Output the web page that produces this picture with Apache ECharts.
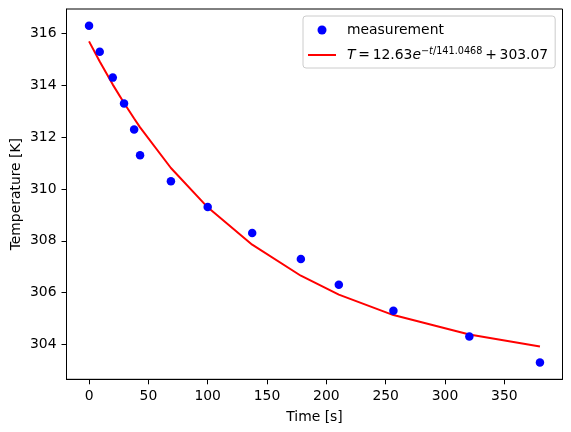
<!DOCTYPE html>
<html>
<head>
<meta charset="utf-8">
<script src="https://cdn.jsdelivr.net/npm/echarts@6/dist/echarts.min.js"></script>
<style>html,body{margin:0;padding:0;background:#fff;}#c{width:571px;height:432px;}</style>
</head>
<body>
<div id="c"></div>
<script>
// Measurement times [s] and temperatures [K]
var times = [0, 9, 20, 29.5, 38, 43, 69, 100, 137.5, 178.5, 210.5, 256.5, 320.5, 380];
var measured = [316.3, 315.3, 314.3, 313.3, 312.3, 311.3, 310.3, 309.3, 308.3, 307.3, 306.3, 305.3, 304.3, 303.3];
// Fitted curve values read at the same times
var fitted = [315.70, 314.92, 314.03, 313.32, 312.72, 312.38, 310.81, 309.29, 307.85, 306.65, 305.92, 305.13, 304.38, 303.92];
var xTicks = [0, 50, 100, 150, 200, 250, 300, 350];
var yTicks = [304, 306, 308, 310, 312, 314, 316];

var FONT = 'DejaVu Sans';
var chart = echarts.init(document.getElementById('c'), null, {renderer: 'canvas'});
var measData = times.map(function (t, i) { return [t, measured[i]]; });
var fitData = times.map(function (t, i) { return [t, fitted[i]]; });

chart.setOption({
  animation: false,
  backgroundColor: '#ffffff',
  grid: {left: 66.5, right: 8.5, top: 9, bottom: 52.7, show: true, borderColor: '#000', borderWidth: 1,
         backgroundColor: 'transparent', containLabel: false, outerBoundsMode: 'none'},
  xAxis: {
    type: 'value', min: -19, max: 399,
    name: 'Time [s]', nameLocation: 'middle', nameGap: 31, nameMoveOverlap: false,
    nameTextStyle: {fontFamily: FONT, fontSize: 13.9, color: '#000'},
    axisLine: {show: true, onZero: false, lineStyle: {color: '#000', width: 1}},
    axisTick: {show: true, length: 5, inside: false, customValues: xTicks, lineStyle: {color: '#000', width: 1}},
    axisLabel: {customValues: xTicks, margin: 10, fontFamily: FONT, fontSize: 13.9, color: '#000'},
    splitLine: {show: false}
  },
  yAxis: {
    type: 'value', min: 302.65, max: 316.95,
    name: 'Temperature [K]', nameLocation: 'middle', nameGap: 43, nameRotate: 90, nameMoveOverlap: false,
    nameTextStyle: {fontFamily: FONT, fontSize: 13.9, color: '#000'},
    axisLine: {show: true, onZero: false, lineStyle: {color: '#000', width: 1}},
    axisTick: {show: true, length: 5, inside: false, customValues: yTicks, lineStyle: {color: '#000', width: 1}},
    axisLabel: {customValues: yTicks, margin: 10, fontFamily: FONT, fontSize: 13.9, color: '#000'},
    splitLine: {show: false}
  },
  legend: {
    orient: 'vertical', left: 303, top: 16,
    padding: [7, 7, 6, 5], itemGap: 9,
    itemWidth: 28, itemHeight: 9,
    borderColor: '#cccccc', borderWidth: 1, borderRadius: 3,
    backgroundColor: 'rgba(255,255,255,0.8)',
    data: [
      {name: 'measurement', icon: 'circle', itemStyle: {color: '#0000ff', opacity: 1}},
      {name: 'fit', icon: 'path://M0,0 L28,0 L28,2 L0,2 Z', itemStyle: {color: '#ff0000', opacity: 1}}
    ],
    formatter: function (name) {
      if (name === 'fit') {
        return '{it|T}{n|\u2009=\u200912.63}{it|e}{sup|\u2212}{supit|t}{sup|/141.0468}{n|\u2009+\u2009303.07}';
      }
      return '{n|' + name + '}';
    },
    textStyle: {
      fontFamily: FONT, fontSize: 13.9, color: '#000', padding: [0, 0, 0, 6],
      rich: {
        n: {fontFamily: FONT, fontSize: 13.9, color: '#000'},
        it: {fontFamily: FONT, fontSize: 13.9, fontStyle: 'italic', color: '#000'},
        sup: {fontFamily: FONT, fontSize: 9.7, color: '#000', padding: [0, 0, 8, 0]},
        supit: {fontFamily: FONT, fontSize: 9.7, fontStyle: 'italic', color: '#000', padding: [0, 0, 8, 0]}
      }
    }
  },
  series: [
    {
      name: 'measurement', type: 'scatter', data: measData,
      symbol: 'circle', symbolSize: 8.5,
      itemStyle: {color: '#0000ff', opacity: 1}, z: 3
    },
    {
      name: 'fit', type: 'line', data: fitData,
      symbol: 'none', showSymbol: false,
      lineStyle: {color: '#ff0000', width: 2},
      itemStyle: {color: '#ff0000'}, z: 2
    }
  ]
});
</script>
</body>
</html>
